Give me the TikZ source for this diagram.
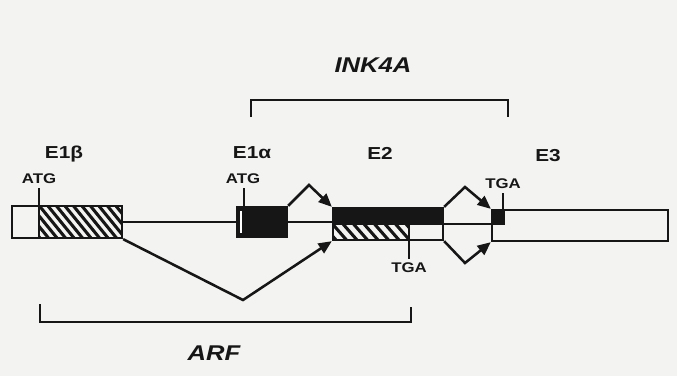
\documentclass[tikz,border=0pt]{standalone}
\usepackage{fontspec}
\setmainfont{Liberation Sans}[FakeStretch=1.2]
\usetikzlibrary{arrows.meta,fit}
\definecolor{ink}{HTML}{161616}
\definecolor{paper}{HTML}{F3F3F2}
\tikzset{
  exon/.style={draw=ink, line width=1.7pt, inner sep=0pt, fit=#1},
  intron/.style={draw=ink, line width=1.6pt},
  tick/.style={draw=ink, line width=1.4pt, shorten <=3.5pt},
  splice/.style={draw=ink, line width=1.9pt, -{Triangle[length=10pt,width=8.5pt]}},
  bracket/.style={draw=ink, line width=1.7pt},
  hatch/.style={draw=ink, line width=2.3pt},
  exlab/.style={font=\fontsize{13}{15}\selectfont\bfseries, text=ink, anchor=base, inner sep=0pt},
  codon/.style={font=\fontsize{10.5}{12}\selectfont\bfseries, text=ink, anchor=base, inner sep=0pt},
  genelab/.style={font=\fontsize{16}{18}\selectfont\bfseries\itshape, text=ink, anchor=base, inner sep=0pt}
}
\begin{document}
\begin{tikzpicture}[x=0.75pt,y=-0.75pt]
\fill[paper] (0,0) rectangle (677,376);
\useasboundingbox (0,0) rectangle (677,376);
% exon corners
\coordinate (b1) at (12,206);  \coordinate (b2) at (122,238);
\coordinate (a1) at (237,207); \coordinate (a2) at (287,237);
\coordinate (c1) at (333,208); \coordinate (c2) at (443,240);
\coordinate (d1) at (492,210); \coordinate (d2) at (668,241);
% fills
\begin{scope}
  \clip (39,206) rectangle (122,238);
  \foreach \x in {0,8.5,...,120} \draw[hatch] (\x+14,206) -- (\x+40,238);
\end{scope}
\fill[ink] (a1) rectangle (a2);
\draw[white, line width=1pt] (241,211) -- (241,233);
\fill[ink] (333,208) rectangle (443,224);
\begin{scope}
  \clip (333,224) rectangle (409,240);
  \foreach \x in {0,10.5,...,100} \draw[hatch] (\x+322,224) -- (\x+336,240);
\end{scope}
\fill[ink] (492,210) rectangle (505,225);
% exon outlines
\node[exon={(b1)(b2)}] (e1b) {};
\node[exon={(a1)(a2)}] (e1a) {};
\node[exon={(c1)(c2)}] (e2) {};
\node[exon={(d1)(d2)}] (e3) {};
\draw[intron] (333,224) -- (443,224);
% introns
\draw[intron] (e1b.east) -- (e1a.west);
\draw[intron] (e1a.east) -- (e1a.east -| e2.west);
\draw[intron] (e2.east) -- (e2.east -| e3.west);
% labels
\node[exlab] (le1b) at (64,158) {E1β};
\node[exlab] (le1a) at (252,158) {E1α};
\node[exlab] (le2) at (380,159) {E2};
\node[exlab] (le3) at (548,161) {E3};
\node[codon] (atg1) at (39,183) {ATG};
\node[codon] (atg2) at (243,183) {ATG};
\node[codon] (tga2) at (409,272) {TGA};
\node[codon] (tga3) at (503,188) {TGA};
% ticks
\draw[tick] (atg1.south) -- (atg1.south |- e1b.south);
\draw[tick] ([xshift=0.75pt]atg2.south) -- ([xshift=0.75pt]atg2.south |- e1a.north);
\draw[tick] (tga3.south) -- (tga3.south |- e3.north);
\draw[tick, shorten <=0pt] (409,224) -- (409,259);
% splicing
\coordinate (p1) at (309,185);
\coordinate (v1) at (243,300);
\coordinate (p2) at (465,187);
\coordinate (v2) at (465,263);
\draw[splice] (e1a.north east) -- (p1) -- (e2.north west);
\draw[splice] (e1b.south east) -- (v1) -- (e2.south west);
\draw[splice] (e2.north east) -- (p2) -- (e3.north west);
\draw[splice] (e2.south east) -- (v2) -- (e3.south west);
% INK4A bracket
\coordinate (ik1) at (251,117); \coordinate (ik2) at (508,117);
\draw[bracket] (ik1) -- (251,100) -- (508,100) -- (ik2);
\node[genelab] (ink) at (373,72) {INK4A};
% ARF bracket
\coordinate (af1) at (40,304); \coordinate (af2) at (411,307);
\draw[bracket] (af1) -- (40,322) -- (411,322) -- (af2);
\node[genelab] (arf) at (214,360) {ARF};
\end{tikzpicture}
\end{document}
